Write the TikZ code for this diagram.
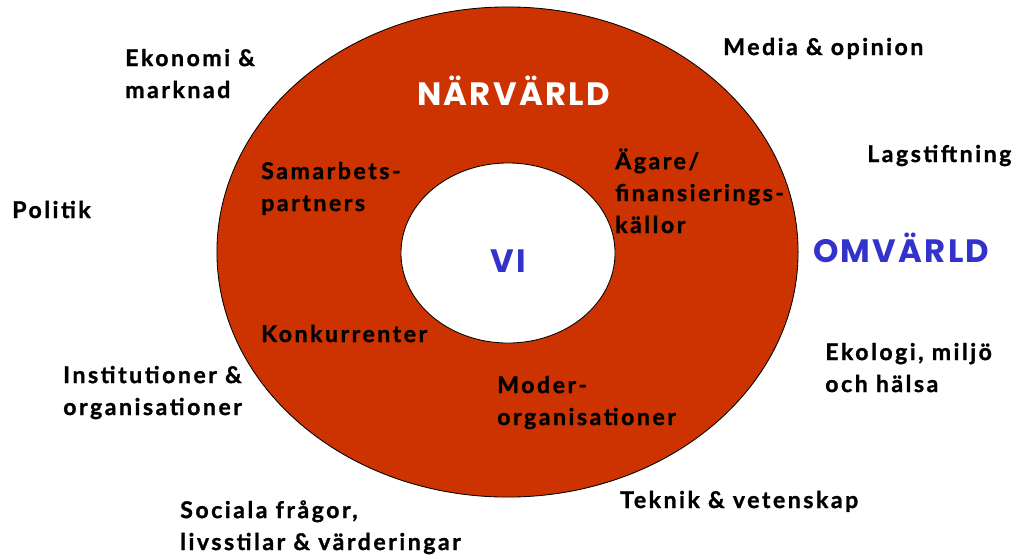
\documentclass[tikz,border=0pt]{standalone}
\usepackage{fontspec}
\setmainfont{Lato}[LetterSpace=11, BoldFeatures={FakeBold=1.2}]
\newfontfamily\geofont{Poppins}[LetterSpace=7]
\definecolor{narred}{HTML}{CC3300}
\definecolor{omvblue}{HTML}{3333CC}

\begin{document}
\begin{tikzpicture}[x=0.025cm, y=-0.025cm,
    factor/.style={anchor=base west, align=left, inner sep=0pt,
                   font=\fontsize{16.4}{22.7}\selectfont\bfseries},
    world/.style={anchor=base west, inner sep=0pt,
                  font=\fontsize{23}{28}\selectfont\geofont\bfseries}]
    % Frame
    \useasboundingbox (0,0) rectangle (1020,555);
    % Centres
    \coordinate (outer) at (507.5,252);
    \coordinate (inner) at (508,253);
    % Rings
    \draw[fill=narred, line width=0.6pt] (outer) ellipse [x radius=7.2625cm, y radius=6.125cm];
    \draw[fill=white,  line width=0.6pt] (inner) ellipse [x radius=2.675cm,  y radius=2.25cm];
    % Titles
    \node[world, text=white]   (narvarld) at (417,105) {NÄRVÄRLD};
    \node[world, text=omvblue] (omvarld)  at (813,262) {OMVÄRLD};
    \node[world, text=omvblue, anchor=base] (vi) at (508,272) {VI};
    % Near world (anchored at the last line)
    \node[factor] (samarbete)  at (261,211) {Samarbets-\\partners};
    \node[factor] (konkurrens) at (261,342) {Konkurrenter};
    \node[factor] (agare)      at (615,233) {Ägare/\\finansierings-\\källor};
    \node[factor] (moder)      at (497,425) {Moder-\\organisationer};
    % Outer world
    \node[factor] (ekonomi)    at (125,98)  {Ekonomi \&\\marknad};
    \node[factor] (politik)    at (12,218)  {Politik};
    \node[factor] (institut)   at (63,415)  {Institutioner \&\\organisationer};
    \node[factor] (sociala)    at (180,550) {Sociala frågor,\\livsstilar \& värderingar};
    \node[factor] (media)      at (723,55)  {Media \& opinion};
    \node[factor] (lag)        at (867,162) {Lagstiftning};
    \node[factor] (ekologi)    at (825,392) {Ekologi, miljö\\och hälsa};
    \node[factor] (teknik)     at (620,508) {Teknik \& vetenskap};
\end{tikzpicture}
\end{document}
